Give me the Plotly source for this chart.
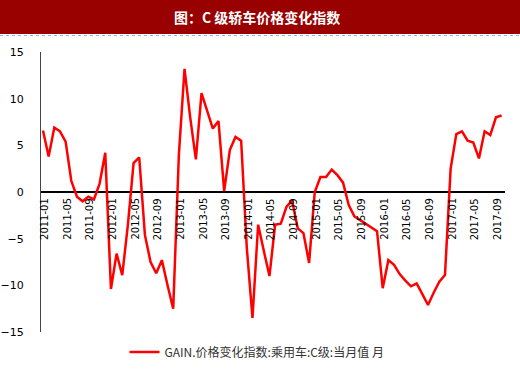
import plotly.graph_objects as go

months = [f"{y}-{m:02d}" for y in range(2011, 2018) for m in range(1, 13)][:82]

values = [
    6.6, 3.8, 6.9, 6.5, 5.4, 1.2, -0.5, -1.0, -0.5, -0.8, 0.9, 4.2,
    -10.4, -6.6, -8.9, -3.5, 3.1, 3.7, -4.6, -7.5, -8.7, -7.3, -10.0, -12.5,
    4.0, 13.2, 8.0, 3.5, 10.6, 8.7, 6.8, 7.6, 0.1, 4.5, 5.9, 5.5,
    -6.0, -13.5, -3.5, -6.3, -9.0, -3.5, -3.4, -1.6, -0.9, -3.9, -4.4, -7.6,
    0.0, 1.6, 1.6, 2.4, 1.8, 1.0, -1.4, -2.6, -3.0, -3.4, -3.8, -4.2,
    -10.3, -7.3, -7.8, -8.8, -9.5, -10.1, -9.8, -11.0, -12.1, -10.8, -9.6, -8.9,
    2.5, 6.2, 6.5, 5.5, 5.3, 3.6, 6.5, 6.1, 8.0, 8.2,
]

tick_labels = months[::4]
y_ticks = [15, 10, 5, 0, -5, -10, -15]
title_text = "图：C 级轿车价格变化指数"
series_name = "GAIN.价格变化指数:乘用车:C级:当月值 月"

idx = list(range(len(months)))
tick_idx = idx[::4]

L, R, T, B = 41, 15, 52, 37
W, H = 520, 369
pw, ph = W - L - R, H - T - B

def px_x(px):
    return (px - L) / pw

def px_y(py):
    return (H - B - py) / ph

fig = go.Figure()
fig.add_trace(go.Scatter(
    x=idx, y=values, mode="lines", name=series_name,
    line=dict(color="#FF0000", width=2.5),
))

annotations = [
    dict(text=f"<b>{title_text}</b>", xref="paper", yref="paper",
         x=px_x(257), y=px_y(17), xanchor="center", yanchor="middle",
         showarrow=False,
         font=dict(family="Noto Sans CJK SC", size=14, color="white")),
]
for i, lab in zip(tick_idx, tick_labels):
    annotations.append(dict(
        text=lab, x=i, y=0, xref="x", yref="y", textangle=-90,
        xanchor="center", yanchor="top", yshift=-4, xshift=1,
        showarrow=False,
        font=dict(family="DejaVu Sans", size=10, color="black")))

fig.update_layout(
    width=W, height=H,
    margin=dict(l=L, r=R, t=T, b=B, autoexpand=False),
    paper_bgcolor="white", plot_bgcolor="white",
    showlegend=True,
    legend=dict(orientation="h", x=px_x(257), xanchor="center",
                y=px_y(352), yanchor="middle",
                font=dict(family="Noto Sans CJK SC", size=12, color="#333333"),
                itemwidth=30),
    xaxis=dict(
        range=[-0.35, 81.6], showticklabels=False,
        showgrid=False, zeroline=False, showline=False,
        ticks="", automargin=False,
    ),
    yaxis=dict(
        range=[-15, 15], tickmode="array", tickvals=y_ticks,
        showgrid=False, zeroline=True, zerolinecolor="black", zerolinewidth=1.5,
        automargin=False,
        showline=True, linecolor="#444444", linewidth=1.2,
        ticks="", ticklabelstandoff=14,
        tickfont=dict(family="DejaVu Sans", size=11, color="black"),
    ),
    shapes=[
        dict(type="rect", xref="paper", yref="paper",
             x0=px_x(0), x1=px_x(W), y0=px_y(34), y1=px_y(0),
             fillcolor="#990000", line=dict(width=0), layer="below"),
        dict(type="line", xref="paper", yref="paper",
             x0=px_x(0), x1=px_x(W), y0=px_y(35.5), y1=px_y(35.5),
             line=dict(color="#9DB3D6", width=1, dash="dot")),
    ],
    annotations=annotations,
)

fig.write_html("out.html", config={"displayModeBar": False},
               post_script="document.body.style.margin='0';")
